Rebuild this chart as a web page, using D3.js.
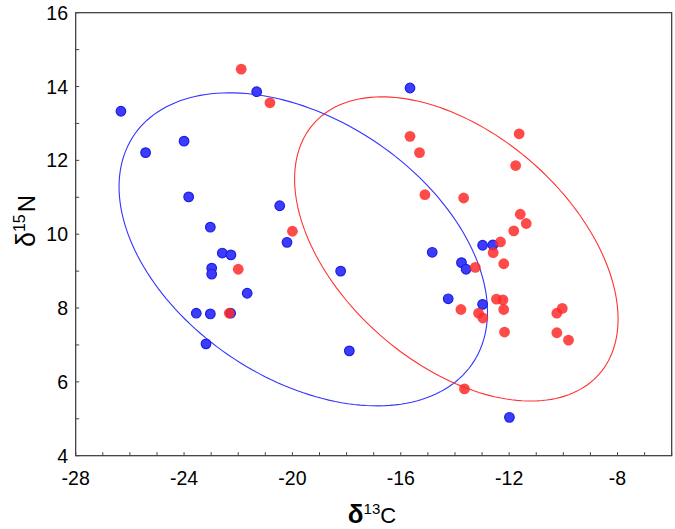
<!DOCTYPE html>
<html>
<head>
<meta charset="utf-8">
<script src="https://cdn.jsdelivr.net/npm/d3@7"></script>
<style>
body{margin:0;background:#fff;}
svg text{font-family:"Liberation Sans",Arial,sans-serif;fill:#000;}
</style>
</head>
<body>
<svg id="chart" width="675" height="529"></svg>
<script>
// ---- data ----
const blueX = [-26.33,-25.42,-24.0,-21.32,-23.83,-20.47,-23.03,-20.2,-22.59,-22.27,-22.98,-22.98,-21.67,-23.55,-23.03,-22.28,-23.19,-18.22,-17.9,-15.66,-14.84,-12.98,-12.6,-13.76,-13.59,-14.25,-12.98,-11.99];
const blueY = [13.33,12.21,12.52,13.86,11.01,10.77,10.19,9.78,9.49,9.44,9.08,8.92,8.4,7.86,7.84,7.86,7.03,9.0,6.84,13.96,9.51,9.70,9.71,9.23,9.05,8.25,8.1,5.04];
const redX = [-21.89,-20.83,-20.0,-22.0,-22.33,-15.66,-15.31,-11.63,-11.76,-15.11,-13.68,-11.59,-11.37,-11.83,-12.32,-12.59,-12.2,-13.25,-12.47,-12.23,-13.78,-13.13,-12.97,-12.2,-12.17,-10.04,-10.24,-10.24,-9.81,-13.65];
const redY = [14.47,13.56,10.08,9.05,7.86,12.65,12.21,12.72,11.86,11.07,10.98,10.54,10.29,10.09,9.79,9.5,9.2,9.1,8.24,8.22,7.96,7.86,7.73,7.96,7.35,7.99,7.86,7.33,7.13,5.81];
// ellipse parameters: [blue, red]
const ellipseCx = [-19.6, -13.95];
const ellipseCy = [9.59, 9.6];
const ellipseHalfW = [6.8, 5.97];
const ellipseHalfH = [4.24, 4.12];
const ellipseR = [-0.4, -0.46];
const xTicks = [-28,-24,-20,-16,-12,-8];
const yTicks = [4,6,8,10,12,14,16];
const xMinor = d3.range(-28,-5,1);
const yMinor = d3.range(4,16.01,1);

// ---- layout ----
const svg = d3.select("#chart");
const L = 75.7, T = 12.7, R = 671.7, B = 455.7;
const x = d3.scaleLinear().domain([-28,-6]).range([L,R]);
const y = d3.scaleLinear().domain([4,16]).range([B,T]);

// frame
svg.append("rect").attr("x",L).attr("y",T).attr("width",R-L).attr("height",B-T)
  .attr("fill","none").attr("stroke","#333").attr("stroke-width",1.2);

// ticks (inward)
const tg = svg.append("g").attr("stroke","#444").attr("stroke-width",1);
xMinor.forEach(v=>{ tg.append("line").attr("x1",x(v)).attr("x2",x(v)).attr("y1",B).attr("y2",B-3.5); });
yMinor.forEach(v=>{ tg.append("line").attr("x1",L).attr("x2",L+3.5).attr("y1",y(v)).attr("y2",y(v)); });

// tick labels
svg.append("g").selectAll("text").data(xTicks).join("text")
  .attr("x",d=>x(d)).attr("y",485).attr("text-anchor","middle")
  .attr("font-size",19.5).text(d=>d3.format("d")(d).replace("−","-"));
svg.append("g").selectAll("text").data(yTicks).join("text")
  .attr("x",68).attr("y",d=>y(d)+7).attr("text-anchor","end")
  .attr("font-size",19.5).text(d=>d);

// axis titles
const xt = svg.append("text").attr("x",372).attr("y",523).attr("text-anchor","middle").attr("font-size",22);
xt.append("tspan").attr("font-weight","bold").attr("font-size",26).text("δ");
xt.append("tspan").attr("font-size",15).attr("dy",-9).text("13");
xt.append("tspan").attr("dy",9).text("C");

const yt = svg.append("text").attr("transform","translate(35,221) rotate(-90)").attr("text-anchor","middle").attr("font-size",24);
yt.append("tspan").attr("font-size",27).text("δ");
yt.append("tspan").attr("font-size",16).attr("dy",-10).text("15");
yt.append("tspan").attr("dy",10).attr("dx",2).text("N");

// ellipses
const colors = ["#3333ff","#ff3333"];
[0,1].forEach(i=>{
  const pts = d3.range(0,361,2).map(deg=>{
    const t = deg*Math.PI/180;
    const r = ellipseR[i];
    return [x(ellipseCx[i] + ellipseHalfW[i]*Math.cos(t)),
            y(ellipseCy[i] + ellipseHalfH[i]*(r*Math.cos(t) + Math.sqrt(1-r*r)*Math.sin(t)))];
  });
  svg.append("path").attr("d",d3.line().curve(d3.curveLinearClosed)(pts))
    .attr("fill","none").attr("stroke",colors[i]).attr("stroke-width",1.1);
});

// points
svg.append("g").selectAll("circle").data(blueX.map((v,i)=>[v,blueY[i]])).join("circle")
  .attr("cx",d=>x(d[0])).attr("cy",d=>y(d[1])).attr("r",4.8)
  .attr("fill","#3c3cff").attr("stroke","#1f1fe0").attr("stroke-width",1.2);
svg.append("g").selectAll("circle").data(redX.map((v,i)=>[v,redY[i]])).join("circle")
  .attr("cx",d=>x(d[0])).attr("cy",d=>y(d[1])).attr("r",5.4)
  .attr("fill","#ff2a2a").attr("fill-opacity",0.85);
</script>
</body>
</html>
